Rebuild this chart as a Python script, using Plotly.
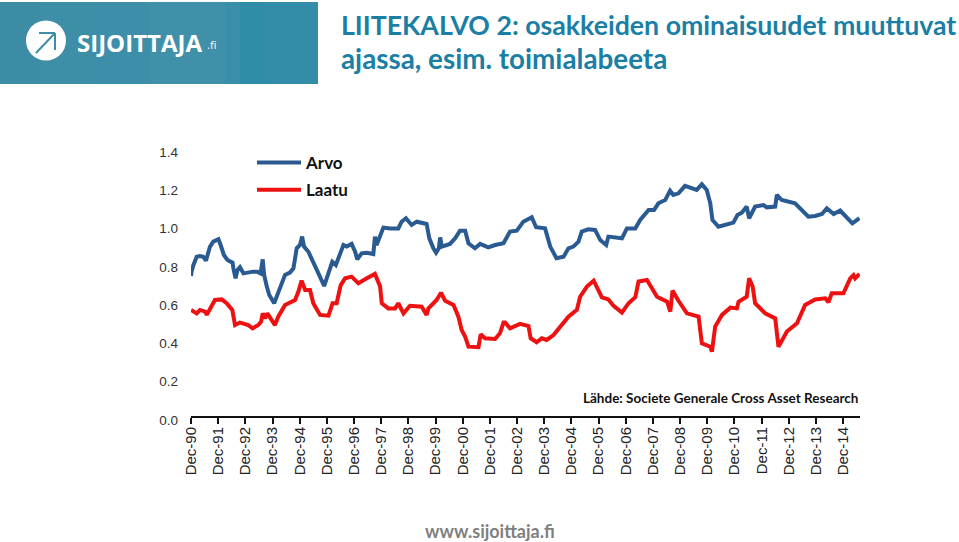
import plotly.graph_objects as go

W, H = 959, 542
tick_labels = ["Dec-%02d" % (y % 100) for y in range(1990, 2015)]
tick_years = list(range(25))

arvo_t = [0,.02,.09,.21,.33,.45,.55,.60,.70,.82,1.01,1.09,1.21,1.34,1.53,1.56,1.64,1.71,1.80,1.93,2.05,2.29,2.44,2.56,2.64,2.69,2.79,2.88,3.06,3.15,3.28,3.46,3.64,3.77,3.89,4.01,4.09,4.16,4.32,4.50,4.69,4.90,5.06,5.20,5.33,5.48,5.61,5.73,5.91,6.04,6.12,6.28,6.47,6.71,6.77,6.83,6.98,7.08,7.33,7.63,7.75,7.91,8.12,8.31,8.67,8.77,8.92,9.02,9.12,9.17,9.23,9.53,9.72,9.90,10.09,10.21,10.45,10.64,10.94,11.19,11.50,11.74,11.99,12.23,12.54,12.70,13.03,13.22,13.45,13.71,13.89,14.07,14.26,14.38,14.62,14.87,15.06,15.28,15.36,15.61,15.86,16.04,16.35,16.53,16.84,17.04,17.20,17.45,17.63,17.75,17.94,18.18,18.61,18.80,18.98,19.11,19.19,19.41,19.96,20.11,20.27,20.45,20.54,20.76,21.07,21.19,21.50,21.56,21.74,22.23,22.48,22.72,22.97,23.22,23.40,23.65,23.89,24.14,24.34,24.60]
arvo_v = [.752,.775,.81,.853,.857,.853,.832,.862,.906,.932,.944,.914,.862,.836,.822,.792,.74,.784,.798,.766,.77,.775,.775,.766,.839,.758,.697,.653,.61,.644,.697,.758,.77,.792,.897,.914,.958,.906,.879,.819,.766,.70,.775,.827,.81,.871,.914,.906,.92,.879,.839,.871,.874,.867,.958,.914,.975,1.005,1.001,1.001,1.036,1.054,1.019,1.036,1.024,.949,.897,.874,.897,.954,.906,.92,.949,.989,.989,.923,.897,.92,.902,.914,.923,.984,.989,1.036,1.059,1.007,1.001,.906,.845,.853,.897,.906,.932,.984,.996,.993,.94,.914,.958,.954,.949,1.001,1.001,1.045,1.097,1.097,1.132,1.149,1.198,1.176,1.184,1.223,1.202,1.231,1.202,1.132,1.045,1.01,1.031,1.071,1.083,1.115,1.054,1.115,1.123,1.111,1.115,1.176,1.149,1.132,1.097,1.062,1.066,1.076,1.106,1.076,1.094,1.054,1.027,1.054]

laatu_t = [0,.09,.21,.33,.52,.58,.70,.88,1.13,1.31,1.52,1.62,1.80,2.11,2.27,2.48,2.58,2.64,2.72,2.81,2.97,3.09,3.21,3.46,3.83,3.95,4.07,4.20,4.38,4.50,4.75,5.06,5.21,5.36,5.51,5.67,5.91,6.16,6.47,6.77,6.96,7.02,7.26,7.51,7.63,7.82,8.06,8.49,8.67,8.74,9.04,9.20,9.35,9.66,9.84,9.96,10.09,10.21,10.58,10.66,10.82,11.19,11.37,11.50,11.56,11.74,12.11,12.42,12.50,12.72,12.91,13.09,13.34,13.65,13.89,14.20,14.32,14.57,14.82,15.12,15.36,15.55,15.86,16.10,16.35,16.47,16.78,17.15,17.52,17.64,17.72,17.94,18.25,18.68,18.80,19.11,19.17,19.29,19.54,19.85,20.09,20.15,20.45,20.54,20.67,20.76,21.13,21.50,21.62,21.93,22.30,22.60,22.97,23.34,23.46,23.58,24.01,24.26,24.38,24.44,24.60]
laatu_v = [.575,.566,.557,.575,.566,.549,.583,.627,.63,.61,.575,.496,.509,.496,.479,.496,.514,.557,.531,.557,.522,.496,.54,.601,.627,.67,.728,.679,.679,.61,.549,.545,.61,.61,.705,.74,.749,.714,.74,.763,.697,.61,.583,.583,.61,.557,.597,.592,.549,.583,.627,.665,.623,.601,.54,.47,.435,.383,.38,.448,.427,.423,.453,.509,.509,.479,.502,.491,.427,.406,.427,.418,.444,.496,.54,.575,.644,.697,.728,.641,.63,.596,.561,.61,.641,.723,.731,.644,.618,.566,.676,.623,.557,.54,.401,.383,.357,.488,.549,.587,.583,.618,.644,.74,.697,.61,.557,.531,.383,.462,.505,.601,.63,.636,.615,.662,.662,.74,.757,.74,.763]

TITLE_1 = "LIITEKALVO 2: osakkeiden ominaisuudet muuttuvat"
TITLE_2 = "ajassa, esim. toimialabeeta"
SOURCE = "Lähde: Societe Generale Cross Asset Research"
FOOTER = "www.sijoittaja.fi"

BLUE, RED = "#2a5a92", "#ee1111"
TEAL = "#1b7fa5"


def px(x):
    return x / W


def py(y):
    return 1 - y / H


fig = go.Figure()
fig.add_trace(go.Scatter(x=arvo_t, y=arvo_v, mode="lines", name="Arvo", legendgroup="a",
                         line=dict(color=BLUE, width=4)))
fig.add_trace(go.Scatter(x=laatu_t, y=laatu_v, mode="lines", name="Laatu", legendgroup="b",
                         line=dict(color=RED, width=4)))

shapes = []
bands = [(0, 40, "#3c8ca6"), (40, 90, "#3f8ea8"), (90, 150, "#3d8ea9"), (150, 225, "#4190aa"),
         (225, 240, "#398ea9"), (240, 265, "#308da8"), (265, 318, "#348da8")]
for x0, x1, c in bands:
    shapes.append(dict(type="rect", xref="paper", yref="paper", x0=px(x0), x1=px(x1), y0=py(84), y1=py(2),
                       fillcolor=c, line_width=0, layer="below"))
shapes.append(dict(type="circle", xref="paper", yref="paper", x0=px(26), x1=px(66), y0=py(60.5), y1=py(20.5),
                   fillcolor="white", line_width=0))
for (a, b, c, d) in [(36, 53, 55, 33), (39, 33, 55, 33), (55, 33, 55, 50)]:
    shapes.append(dict(type="line", xref="paper", yref="paper", x0=px(a), y0=py(b), x1=px(c), y1=py(d),
                       line=dict(color="#3f8ea8", width=2)))

def note(text, x, y, size, color, xanchor="left", family="Lato"):
    return dict(text=text, xref="paper", yref="paper", x=px(x), y=py(y), xanchor=xanchor, yanchor="middle",
                showarrow=False, font=dict(family=family, size=size, color=color), borderpad=0, borderwidth=0)

annotations = [
    note("<b>" + TITLE_1 + "</b>", 341, 25, 26.7, TEAL),
    note("<b>" + TITLE_2 + "</b>", 341, 59, 27.8, TEAL),
    note("<b>SIJOITTAJA</b>", 77, 42, 24, "white", family="Open Sans"),
    note(".fi", 207, 45, 11, "white", family="Open Sans"),
    note("<b>" + SOURCE + "</b>", 583, 398, 13.5, "#111111"),
    note("<b>" + FOOTER + "</b>", 490, 531, 18, "#7f7f7f", xanchor="center"),
]

fig.update_layout(
    width=W, height=H, autosize=False,
    margin=dict(l=0, r=0, t=0, b=0, pad=0, autoexpand=False),
    paper_bgcolor="white", plot_bgcolor="white",
    shapes=shapes, annotations=annotations,
    showlegend=True,
    legend=dict(x=px(252), y=py(145), xanchor="left", yanchor="top", bgcolor="rgba(0,0,0,0)",
                font=dict(family="Lato", size=17, color="#111111", weight="bold"), itemwidth=44, tracegroupgap=2),
    xaxis=dict(domain=[px(191), px(860)], range=[0, 24.62], tickmode="array", tickvals=tick_years,
               ticktext=tick_labels, tickangle=-90, ticks="outside", ticklen=6, tickwidth=2, tickcolor="#111111",
               showline=True, linewidth=2, linecolor="#111111", showgrid=False, zeroline=False,
               anchor="free", position=py(417), ticklabelstandoff=-3,
               tickfont=dict(family="Liberation Sans", size=15, color="#222222")),
    yaxis=dict(domain=[py(420), py(152)], range=[0, 1.4], tickmode="array",
               tickvals=[0, .2, .4, .6, .8, 1.0, 1.2, 1.4],
               ticktext=["0.0", "0.2", "0.4", "0.6", "0.8", "1.0", "1.2", "1.4"],
               showline=False, showgrid=False, zeroline=False, ticks="", ticklabelstandoff=12,
               tickfont=dict(family="Liberation Sans", size=13.5, color="#333333")),
)

fig.write_html("out.html", config={"displayModeBar": False},
               post_script="document.body.style.margin='0';document.documentElement.style.overflow='hidden';")
